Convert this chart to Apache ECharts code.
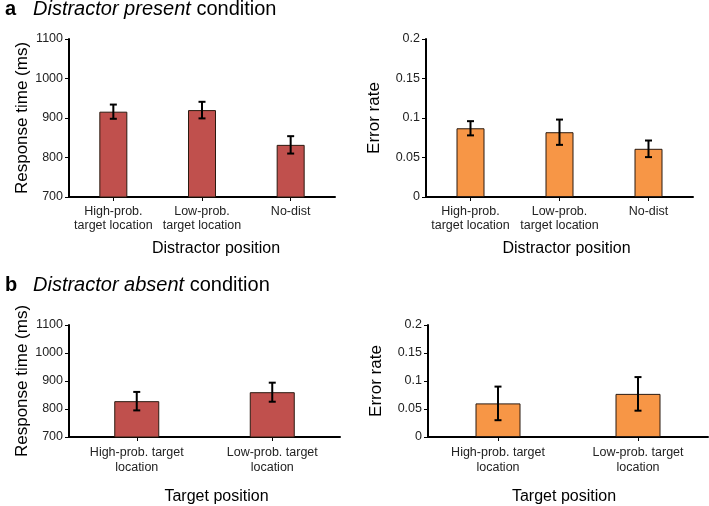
<!DOCTYPE html>
<html>
<head>
<meta charset="utf-8">
<script src="https://cdn.jsdelivr.net/npm/echarts@6/dist/echarts.min.js"></script>
<style>
  html, body { margin: 0; padding: 0; background: #fff; }
  #main { width: 709px; height: 506px; }
</style>
</head>
<body>
<div id="main"></div>
<script>
// categories
var catsPresent = ['High-prob.\ntarget location', 'Low-prob.\ntarget location', 'No-dist'];
var catsAbsent = ['High-prob. target\nlocation', 'Low-prob. target\nlocation'];

// distractor present
var rtPresent = [916, 920, 832];
var rtPresentErr = [18, 21, 22];
var erPresent = [0.087, 0.082, 0.061];
var erPresentErr = [0.009, 0.016, 0.0105];

// distractor absent
var rtAbsent = [828, 860];
var rtAbsentErr = [33, 34];
var erAbsent = [0.060, 0.077];
var erAbsentErr = [0.030, 0.030];

var FONT = 'Liberation Sans';
var RED = '#C0504D';
var ORANGE = '#F79646';

var myChart = echarts.init(document.getElementById('main'));

function xAx(idx, cats, name, lh, shift) {
  return {
    type: 'category', gridIndex: idx, data: cats,
    name: name, nameLocation: 'middle', nameGap: lh === 15 ? 52 : 44,
    nameTextStyle: { fontFamily: FONT, fontSize: 16, color: '#000', padding: shift > 0 ? [0, 0, 0, shift] : [0, -shift, 0, 0] },
    axisLine: { lineStyle: { color: '#000', width: 2 } },
    axisTick: { show: true, alignWithLabel: true, length: 4, lineStyle: { color: '#000' } },
    axisLabel: { fontFamily: FONT, fontSize: 12.5, color: '#222', lineHeight: lh, margin: 8, interval: 0 }
  };
}

function yAx(idx, min, max, step, name, gap) {
  return {
    type: 'value', gridIndex: idx, min: min, max: max, interval: step,
    name: name, nameLocation: 'middle', nameGap: gap,
    nameTextStyle: { fontFamily: FONT, fontSize: 17, color: '#000' },
    axisLine: { show: true, lineStyle: { color: '#000', width: 2 } },
    axisTick: { show: true, length: 4, lineStyle: { color: '#000' } },
    axisLabel: { fontFamily: FONT, fontSize: 12.5, color: '#222', margin: 6,
      formatter: function (v) { return String(+v.toFixed(4)); } },
    splitLine: { show: false }
  };
}

function barSeries(idx, vals, color, w) {
  return {
    type: 'bar', xAxisIndex: idx, yAxisIndex: idx, data: vals, barWidth: w,
    itemStyle: { color: color, borderColor: '#2b1a10', borderWidth: 1 },
    z: 2
  };
}

function errSeries(idx, vals, errs) {
  return {
    type: 'custom', xAxisIndex: idx, yAxisIndex: idx, z: 5,
    data: vals.map(function (v, i) { return [i, v, errs[i]]; }),
    encode: { x: 0, y: 1 },
    renderItem: function (params, api) {
      var i = api.value(0), v = api.value(1), e = api.value(2);
      var hi = api.coord([i, v + e]);
      var lo = api.coord([i, v - e]);
      var cap = 3.5;
      var st = { stroke: '#000', lineWidth: 2 };
      return {
        type: 'group',
        children: [
          { type: 'line', shape: { x1: hi[0], y1: hi[1], x2: lo[0], y2: lo[1] }, style: st },
          { type: 'line', shape: { x1: hi[0] - cap, y1: hi[1], x2: hi[0] + cap, y2: hi[1] }, style: st },
          { type: 'line', shape: { x1: lo[0] - cap, y1: lo[1], x2: lo[0] + cap, y2: lo[1] }, style: st }
        ]
      };
    }
  };
}

var titleRich = {
  b: { fontFamily: FONT, fontSize: 20, fontWeight: 'bold', color: '#000', width: 28 },
  i: { fontFamily: FONT, fontSize: 20, fontStyle: 'italic', fontWeight: 'normal', color: '#000' },
  n: { fontFamily: FONT, fontSize: 20, fontWeight: 'normal', color: '#000' }
};

myChart.setOption({
  animation: false,
  title: [
    { left: 0, top: -6, text: '{b|a}{i|Distractor present}{n| condition}', textStyle: { fontWeight: 'normal', rich: titleRich } },
    { left: 0, top: 270, text: '{b|b}{i|Distractor absent}{n| condition}', textStyle: { fontWeight: 'normal', rich: titleRich } }
  ],
  grid: [
    { left: 69, top: 39, width: 266, height: 158 },
    { left: 426, top: 39, width: 267, height: 158 },
    { left: 69, top: 325, width: 271, height: 115 },
    { left: 428, top: 325, width: 280, height: 115 }
  ],
  xAxis: [
    xAx(0, catsPresent, 'Distractor position', 13.5, 28),
    xAx(1, catsPresent, 'Distractor position', 13.5, 14),
    xAx(2, catsAbsent, 'Target position', 15, 24),
    xAx(3, catsAbsent, 'Target position', 15, -8)
  ],
  yAxis: [
    yAx(0, 700, 1100, 100, 'Response time (ms)', 38),
    yAx(1, 0, 0.2, 0.05, 'Error rate', 43),
    yAx(2, 700, 1100, 100, 'Response time (ms)', 38),
    yAx(3, 0, 0.2, 0.05, 'Error rate', 43)
  ],
  series: [
    barSeries(0, rtPresent, RED, 28),
    errSeries(0, rtPresent, rtPresentErr),
    barSeries(1, erPresent, ORANGE, 28),
    errSeries(1, erPresent, erPresentErr),
    barSeries(2, rtAbsent, RED, 45),
    errSeries(2, rtAbsent, rtAbsentErr),
    barSeries(3, erAbsent, ORANGE, 45),
    errSeries(3, erAbsent, erAbsentErr)
  ]
});
</script>
</body>
</html>
